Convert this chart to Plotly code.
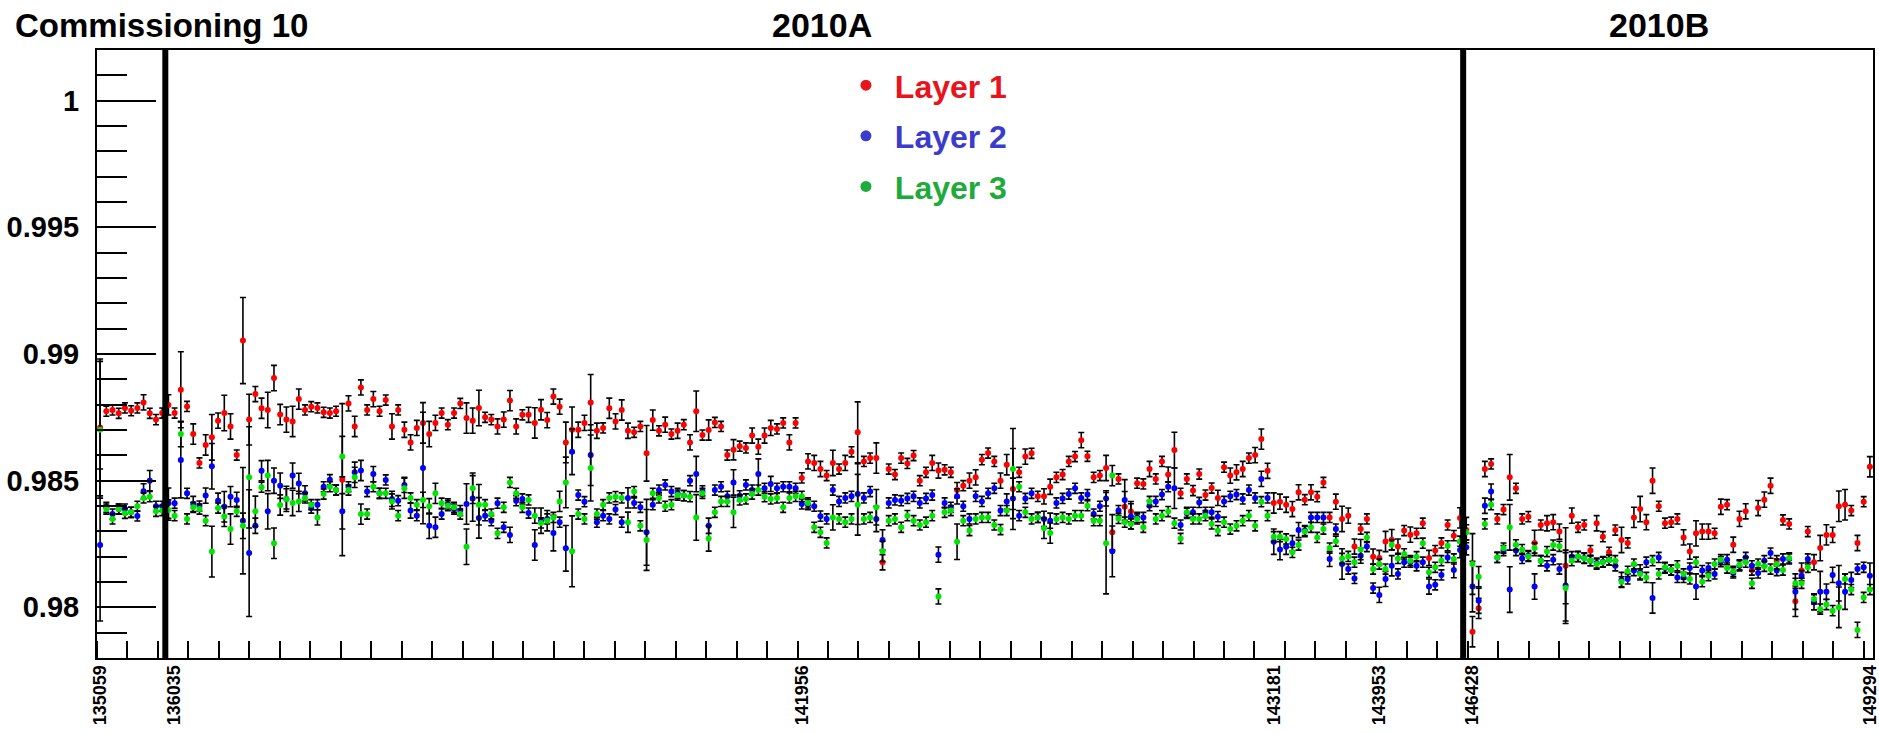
import plotly.graph_objects as go

# ---------------- data ----------------
layer1_eff = [
    0.98710,0.98774,0.98779,0.98766,0.98787,0.98776,0.98787,0.98809,0.98766,0.98741,
    0.98767,0.98799,0.98767,0.98859,0.98793,0.98684,0.98570,0.98641,0.98671,0.98737,
    0.98767,0.98714,0.98601,0.99053,0.98741,0.98842,0.98786,0.98779,0.98905,0.98761,
    0.98741,0.98734,0.98822,0.98779,0.98792,0.98787,0.98770,0.98767,0.98774,0.98504,
    0.98805,0.98714,0.98868,0.98779,0.98822,0.98774,0.98818,0.98714,0.98779,0.98701,
    0.98651,0.98708,0.98728,0.98684,0.98728,0.98767,0.98721,0.98767,0.98805,0.98747,
    0.98737,0.98787,0.98750,0.98741,0.98714,0.98741,0.98816,0.98714,0.98760,0.98760,
    0.98728,0.98780,0.98739,0.98832,0.98792,0.98651,0.98701,0.98701,0.98728,0.98809,
    0.98697,0.98708,0.98786,0.98734,0.98779,0.98697,0.98691,0.98714,0.98608,0.98739,
    0.98697,0.98721,0.98684,0.98697,0.98721,0.98651,0.98774,0.98680,0.98700,0.98730,
    0.98714,0.98601,0.98622,0.98636,0.98629,0.98678,0.98634,0.98678,0.98708,0.98704,
    0.98728,0.98651,0.98728,0.98511,0.98576,0.98570,0.98546,0.98520,0.98570,0.98546,
    0.98570,0.98614,0.98691,0.98576,0.98589,0.98589,0.98178,0.98546,0.98524,0.98589,
    0.98568,0.98599,0.98500,0.98533,0.98570,0.98540,0.98543,0.98533,0.98463,0.98480,
    0.98500,0.98513,0.98583,0.98609,0.98576,0.98500,0.98563,0.98467,0.98533,0.98595,
    0.98608,0.98438,0.98438,0.98476,0.98513,0.98524,0.98576,0.98595,0.98660,0.98596,
    0.98513,0.98520,0.98550,0.98296,0.98507,0.98397,0.98378,0.98490,0.98487,0.98546,
    0.98507,0.98576,0.98524,0.98621,0.98450,0.98507,0.98461,0.98526,0.98443,0.98471,
    0.98432,0.98553,0.98520,0.98533,0.98546,0.98589,0.98601,0.98664,0.98539,0.98412,
    0.98417,0.98405,0.98388,0.98454,0.98425,0.98454,0.98437,0.98493,0.98355,0.98417,
    0.98349,0.98362,0.98240,0.98309,0.98349,0.98200,0.98195,0.98260,0.98267,0.98240,
    0.98303,0.98287,0.98292,0.98332,0.98195,0.98224,0.98254,0.98325,0.98283,0.98353,
    0.98305,0.97904,0.97996,0.98546,0.98566,0.98349,0.98386,0.98513,0.98470,0.98349,
    0.98358,0.98254,0.98325,0.98332,0.98336,0.98299,0.98164,0.98362,0.98316,0.98325,
    0.98224,0.98332,0.98279,0.98217,0.98305,0.98266,0.98254,0.98355,0.98388,0.98336,
    0.98500,0.98399,0.98332,0.98336,0.98349,0.98276,0.98220,0.98292,0.98299,0.98299,
    0.98292,0.98397,0.98405,0.98247,0.98349,0.98379,0.98147,0.98392,0.98425,0.98480,
    0.98184,0.98345,0.98329,0.98024,0.98145,0.98299,0.98178,0.98234,0.98286,0.98286,
    0.98399,0.98405,0.98382,0.98254,0.98417,0.98555,
]
layer2_eff = [
    0.98246,0.98395,0.98368,0.98388,0.98388,0.98375,0.98361,0.98458,0.98500,0.98399,
    0.98399,0.98411,0.98411,0.98582,0.98450,0.98408,0.98400,0.98441,0.98557,0.98421,
    0.98397,0.98437,0.98424,0.98342,0.98214,0.98322,0.98539,0.98379,0.98500,0.98480,
    0.98428,0.98520,0.98489,0.98450,0.98392,0.98405,0.98476,0.98504,0.98463,0.98379,
    0.98476,0.98533,0.98540,0.98457,0.98526,0.98450,0.98503,0.98428,0.98421,0.98483,
    0.98382,0.98362,0.98550,0.98322,0.98316,0.98368,0.98408,0.98388,0.98382,0.98408,
    0.98430,0.98353,0.98362,0.98342,0.98411,0.98316,0.98286,0.98421,0.98428,0.98372,
    0.98246,0.98342,0.98349,0.98293,0.98336,0.98233,0.98614,0.98443,0.98417,0.98601,
    0.98336,0.98362,0.98349,0.98386,0.98336,0.98432,0.98412,0.98395,0.98296,0.98405,
    0.98463,0.98483,0.98457,0.98450,0.98441,0.98500,0.98526,0.98460,0.98322,0.98463,
    0.98476,0.98438,0.98493,0.98440,0.98483,0.98463,0.98526,0.98470,0.98487,0.98470,
    0.98476,0.98476,0.98470,0.98408,0.98405,0.98399,0.98360,0.98349,0.98463,0.98418,
    0.98432,0.98438,0.98447,0.98432,0.98457,0.98349,0.98266,0.98412,0.98424,0.98421,
    0.98430,0.98438,0.98412,0.98430,0.98443,0.98208,0.98412,0.98395,0.98438,0.98399,
    0.98349,0.98438,0.98418,0.98450,0.98470,0.98382,0.98418,0.98430,0.98362,0.98430,
    0.98450,0.98355,0.98349,0.98342,0.98412,0.98430,0.98447,0.98470,0.98432,0.98445,
    0.98368,0.98399,0.98430,0.98221,0.98382,0.98424,0.98359,0.98355,0.98355,0.98401,
    0.98418,0.98445,0.98476,0.98470,0.98325,0.98371,0.98375,0.98414,0.98375,0.98375,
    0.98358,0.98418,0.98438,0.98445,0.98428,0.98463,0.98432,0.98507,0.98432,0.98259,
    0.98228,0.98239,0.98253,0.98305,0.98303,0.98355,0.98355,0.98355,0.98191,0.98309,
    0.98171,0.98151,0.98114,0.98204,0.98240,0.98076,0.98049,0.98112,0.98164,0.98132,
    0.98178,0.98178,0.98164,0.98178,0.98082,0.98089,0.98128,0.98197,0.98147,0.98226,
    0.98237,0.98082,0.98026,0.98401,0.98457,0.98197,0.98224,0.98070,0.98224,0.98193,
    0.98204,0.98082,0.98184,0.98164,0.98188,0.98151,0.98086,0.98200,0.98200,0.98195,
    0.98184,0.98175,0.98180,0.98187,0.98164,0.98108,0.98112,0.98145,0.98138,0.98178,
    0.98037,0.98197,0.98155,0.98147,0.98118,0.98118,0.98155,0.98082,0.98145,0.98155,
    0.98132,0.98180,0.98188,0.98136,0.98164,0.98197,0.98164,0.98136,0.98184,0.98214,
    0.98145,0.98191,0.98191,0.98062,0.98125,0.98191,0.98020,0.98062,0.98062,0.98128,
    0.98095,0.98062,0.98108,0.98151,0.98158,0.98125,
]
layer3_eff = [
    0.98701,0.98388,0.98349,0.98388,0.98371,0.98375,0.98399,0.98432,0.98437,0.98379,
    0.98382,0.98384,0.98362,0.98684,0.98349,0.98395,0.98388,0.98342,0.98220,0.98392,
    0.98359,0.98309,0.98379,0.98322,0.98513,0.98379,0.98474,0.98520,0.98253,0.98404,
    0.98428,0.98412,0.98418,0.98432,0.98405,0.98355,0.98447,0.98476,0.98463,0.98595,
    0.98463,0.98513,0.98368,0.98368,0.98476,0.98450,0.98450,0.98418,0.98362,0.98470,
    0.98432,0.98405,0.98424,0.98399,0.98450,0.98411,0.98401,0.98395,0.98368,0.98239,
    0.98470,0.98405,0.98405,0.98368,0.98292,0.98395,0.98493,0.98450,0.98395,0.98424,
    0.98362,0.98333,0.98342,0.98355,0.98418,0.98493,0.98221,0.98368,0.98349,0.98550,
    0.98368,0.98405,0.98432,0.98437,0.98432,0.98336,0.98457,0.98322,0.98266,0.98450,
    0.98432,0.98399,0.98405,0.98443,0.98441,0.98437,0.98355,0.98450,0.98272,0.98375,
    0.98418,0.98418,0.98375,0.98424,0.98428,0.98447,0.98463,0.98437,0.98428,0.98432,
    0.98395,0.98432,0.98438,0.98438,0.98412,0.98316,0.98296,0.98254,0.98355,0.98349,
    0.98336,0.98349,0.98405,0.98349,0.98355,0.98395,0.98221,0.98342,0.98349,0.98316,
    0.98362,0.98342,0.98325,0.98336,0.98362,0.98043,0.98375,0.98382,0.98259,0.98342,
    0.98303,0.98349,0.98355,0.98355,0.98325,0.98307,0.98382,0.98546,0.98476,0.98375,
    0.98349,0.98355,0.98312,0.98293,0.98349,0.98355,0.98349,0.98362,0.98362,0.98401,
    0.98342,0.98342,0.98253,0.98520,0.98351,0.98336,0.98329,0.98349,0.98316,0.98418,
    0.98349,0.98362,0.98378,0.98332,0.98272,0.98375,0.98349,0.98349,0.98362,0.98329,
    0.98303,0.98336,0.98309,0.98322,0.98342,0.98362,0.98322,0.98417,0.98362,0.98279,
    0.98279,0.98270,0.98217,0.98246,0.98299,0.98316,0.98276,0.98309,0.98234,0.98261,
    0.98193,0.98201,0.98178,0.98228,0.98276,0.98151,0.98171,0.98151,0.98247,0.98193,
    0.98211,0.98184,0.98200,0.98253,0.98138,0.98158,0.98184,0.98243,0.98191,0.98261,
    0.98296,0.98171,0.98121,0.98329,0.98405,0.98197,0.98234,0.98316,0.98247,0.98228,
    0.98201,0.98234,0.98184,0.98220,0.98246,0.98241,0.98076,0.98184,0.98201,0.98193,
    0.98184,0.98171,0.98178,0.98187,0.98184,0.98101,0.98142,0.98171,0.98132,0.98118,
    0.98184,0.98132,0.98158,0.98147,0.98164,0.98132,0.98112,0.98178,0.98101,0.98125,
    0.98171,0.98188,0.98155,0.98142,0.98168,0.98178,0.98095,0.98171,0.98162,0.98151,
    0.98171,0.98147,0.98195,0.98095,0.98095,0.98158,0.98033,0.97993,0.98011,0.97987,
    0.98000,0.98112,0.98070,0.97911,0.98039,0.98070,
]

# statistical errors, in units of 1e-4
layer1_err_e4 = [
    27,2,2,2,2,2,2,3,2,2, 2,4,2,15,2,4,2,4,9,3, 7,5,2,17,10,3,4,7,5,4,
    5,6,4,2,2,2,2,2,2,30, 3,4,3,2,3,2,2,5,2,3, 3,3,8,5,3,2,2,2,2,6,
    5,7,2,2,3,3,4,3,2,3, 6,4,3,3,3,8,9,3,3,11, 3,2,4,3,4,3,2,2,11,4,
    2,3,2,3,2,3,8,2,4,2, 2,2,4,2,2,3,3,3,3,2, 2,3,2,2,3,3,3,2,5,2,
    3,2,12,2,2,6,3,2,2,2, 2,2,2,2,3,3,2,2,3,2, 3,3,2,2,2,3,4,16,2,3,
    2,2,3,3,2,2,2,2,3,2, 2,2,5,7,2,6,4,2,2,3, 2,2,3,7,2,2,2,2,2,2,
    3,2,3,3,3,2,3,4,3,4, 3,3,3,3,2,3,2,2,2,3, 5,3,3,2,2,3,3,4,4,3,
    2,3,2,2,3,2,2,2,2,4, 5,6,4,3,2,2,2,9,2,2, 2,5,2,3,3,3,15,3,2,2,
    2,3,2,2,2,5,2,4,5,3, 5,2,2,2,2,3,3,5,3,3, 2,3,2,3,3,3,2,3,3,3,
    2,2,2,6,3,2,3,5,4,3, 6,6,2,3,2,4,
]
layer2_err_e4 = [
    30,2,2,2,2,2,2,3,4,2, 2,6,2,15,2,3,2,3,9,3, 6,4,3,21,25,3,4,7,5,5,
    5,5,4,3,2,2,2,2,2,7, 2,4,4,2,3,2,2,3,2,3, 3,2,22,5,4,2,2,2,2,8,
    9,8,2,2,2,2,3,2,2,2, 6,5,2,7,2,9,9,2,2,12, 2,2,2,2,2,4,2,2,13,2,
    2,2,2,2,2,2,7,2,3,2, 2,2,5,2,2,2,6,2,3,2, 2,2,2,2,2,2,2,2,2,2,
    2,2,12,2,2,5,4,2,2,2, 2,2,2,2,2,3,2,2,3,2, 2,2,2,2,2,2,3,8,2,2,
    2,2,3,3,2,2,2,2,2,2, 2,2,3,10,2,8,5,2,2,2, 2,2,2,8,2,2,2,2,2,2,
    2,2,2,2,2,2,2,3,2,5, 4,3,3,3,2,2,2,2,3,2, 6,2,2,3,2,2,3,3,4,2,
    2,2,2,2,3,2,2,2,3,3, 3,10,5,3,3,2,2,9,2,2, 2,5,2,2,2,2,14,2,2,2,
    2,2,2,2,2,3,2,2,3,2, 6,2,2,2,2,2,2,5,2,2, 2,2,2,2,2,2,2,2,2,2,
    2,2,2,7,2,2,3,8,3,3, 7,7,3,2,2,5,
]
layer3_err_e4 = [
    27,2,2,2,2,2,2,2,2,2, 2,4,2,5,2,2,2,2,10,2, 4,6,2,5,20,6,2,6,6,4,
    4,5,4,2,2,3,2,2,2,8, 2,4,4,2,2,2,2,3,2,4, 2,2,3,3,4,2,2,2,2,7,
    6,8,2,2,2,2,2,2,2,2, 3,2,4,2,4,10,14,2,2,13, 2,2,2,2,2,4,2,2,12,2,
    2,2,2,2,2,2,9,2,5,2, 2,2,6,2,2,2,2,2,2,2, 2,2,2,2,2,2,2,2,5,2,
    2,2,12,2,2,7,4,2,2,2, 2,2,2,2,2,3,2,2,7,2, 2,2,2,2,2,2,2,16,2,2,
    2,2,4,4,2,2,2,2,2,2, 2,2,20,4,2,2,2,2,2,2, 2,2,2,2,2,2,2,2,2,2,
    2,2,2,2,2,2,2,2,2,2, 2,2,2,2,2,2,2,2,2,2, 2,2,2,4,2,2,2,2,2,2,
    2,2,2,2,2,2,2,2,2,2, 3,12,4,2,2,2,2,9,2,2, 2,2,2,2,2,2,14,2,2,2,
    2,2,2,2,2,2,2,2,2,2, 2,2,2,2,2,2,2,2,2,2, 2,2,2,2,2,2,2,2,2,2,
    2,2,2,2,2,2,2,2,2,2, 8,2,2,3,2,2,
]

run_label_index = [0, 12, 113, 189, 206, 221, 285]
run_label_text = ["135059", "136035", "141956", "143181", "143953", "146428", "149294"]
period_boundaries = [10.5, 219.5]
period_names = ["2010A", "2010B"]
layer_names = ["Layer 1", "Layer 2", "Layer 3"]

n = len(layer1_eff)
assert len(layer2_eff) == n and len(layer3_eff) == n
assert len(layer1_err_e4) == n and len(layer2_err_e4) == n and len(layer3_err_e4) == n
run_index = list(range(n))

# ---------------- styling ----------------
FONT = "Liberation Sans"
marker_colors = ["#ff0000", "#0000ff", "#00e600"]
legend_colors = ["#e8141c", "#3c3ccc", "#1faa3c"]

fig = go.Figure()
series = [
    (layer1_eff, layer1_err_e4),
    (layer2_eff, layer2_err_e4),
    (layer3_eff, layer3_err_e4),
]
for (vals, errs), col in zip(series, marker_colors):
    fig.add_trace(go.Scatter(
        x=run_index, y=vals, mode="markers",
        marker=dict(color=col, size=6, symbol="circle", line=dict(width=0)),
        error_y=dict(type="data", array=[e * 1e-4 for e in errs],
                     color="black", thickness=1.6, width=3),
        showlegend=False, hoverinfo="skip",
    ))

# legend entries
for i, (name, lcol) in enumerate(zip(layer_names, legend_colors)):
    fig.add_trace(go.Scatter(
        x=[None], y=[None], mode="markers",
        marker=dict(color=lcol, size=11),
        name=f"\u00a0<span style='color:{lcol}'><b>{name}</b></span>",
        legendgroup=f"g{i}", showlegend=True,
    ))

x_lo, x_hi = -0.5, n - 0.5

fig.update_layout(
    width=1879, height=733, autosize=False,
    margin=dict(l=97, r=6, t=50, b=75, pad=0),
    paper_bgcolor="white", plot_bgcolor="white",
    font=dict(family=FONT, color="black"),
    showlegend=True,
    legend=dict(x=0.4217, y=0.987, xanchor="left", yanchor="top",
                bgcolor="rgba(0,0,0,0)", borderwidth=0,
                font=dict(family=FONT, size=32),
                tracegroupgap=6, itemsizing="trace"),
    xaxis=dict(
        range=[x_lo, x_hi], showgrid=False, zeroline=False,
        showline=True, linecolor="black", linewidth=2, mirror=True,
        automargin=False, ticklabeloverflow="allow",
        tickmode="array", tickvals=run_label_index, ticktext=run_label_text,
        ticks="", tickangle=-90,
        tickfont=dict(family=FONT, size=18, color="black", weight="bold"),
        ticklabelstandoff=-2,
        minor=dict(tickmode="linear", tick0=x_lo, dtick=4.905,
                   ticks="inside", ticklen=17, tickwidth=1.6, tickcolor="black",
                   showgrid=False),
    ),
    yaxis=dict(
        range=[0.978, 1.002], showgrid=False, zeroline=False,
        showline=True, linecolor="black", linewidth=2, mirror=True,
        automargin=False, ticklabeloverflow="allow",
        tickmode="array",
        tickvals=[0.98, 0.985, 0.99, 0.995, 1.0],
        ticktext=["0.98", "0.985", "0.99", "0.995", "1"],
        ticks="inside", ticklen=59, tickwidth=1.6, tickcolor="black",
        tickfont=dict(family=FONT, size=29, color="black", weight="bold"),
        ticklabelstandoff=10,
        minor=dict(tickmode="linear", tick0=0.978, dtick=0.001,
                   ticks="inside", ticklen=30, tickwidth=1.6, tickcolor="black",
                   showgrid=False),
    ),
)

for xb in period_boundaries:
    fig.add_shape(type="line", xref="x", yref="paper", x0=xb, x1=xb, y0=0, y1=1,
                  line=dict(color="black", width=6), layer="above")

fig.add_annotation(text="<b>Commissioning 10</b>", xref="paper", yref="paper",
                   x=-0.0473, y=1.041, xanchor="left", yanchor="middle",
                   showarrow=False, font=dict(family=FONT, size=33, color="black"))
fig.add_annotation(text=f"<b>{period_names[0]}</b>", xref="paper", yref="paper",
                   x=0.408, y=1.041, xanchor="center", yanchor="middle",
                   showarrow=False, font=dict(family=FONT, size=34, color="black"))
fig.add_annotation(text=f"<b>{period_names[1]}</b>", xref="paper", yref="paper",
                   x=0.8795, y=1.041, xanchor="center", yanchor="middle",
                   showarrow=False, font=dict(family=FONT, size=34, color="black"))

# remove the browser's default 8px body margin so the figure fills the window exactly
fig.write_html("out.html",
               config={"displayModeBar": False},
               post_script="document.body.style.margin='0';document.body.style.overflow='hidden';")
